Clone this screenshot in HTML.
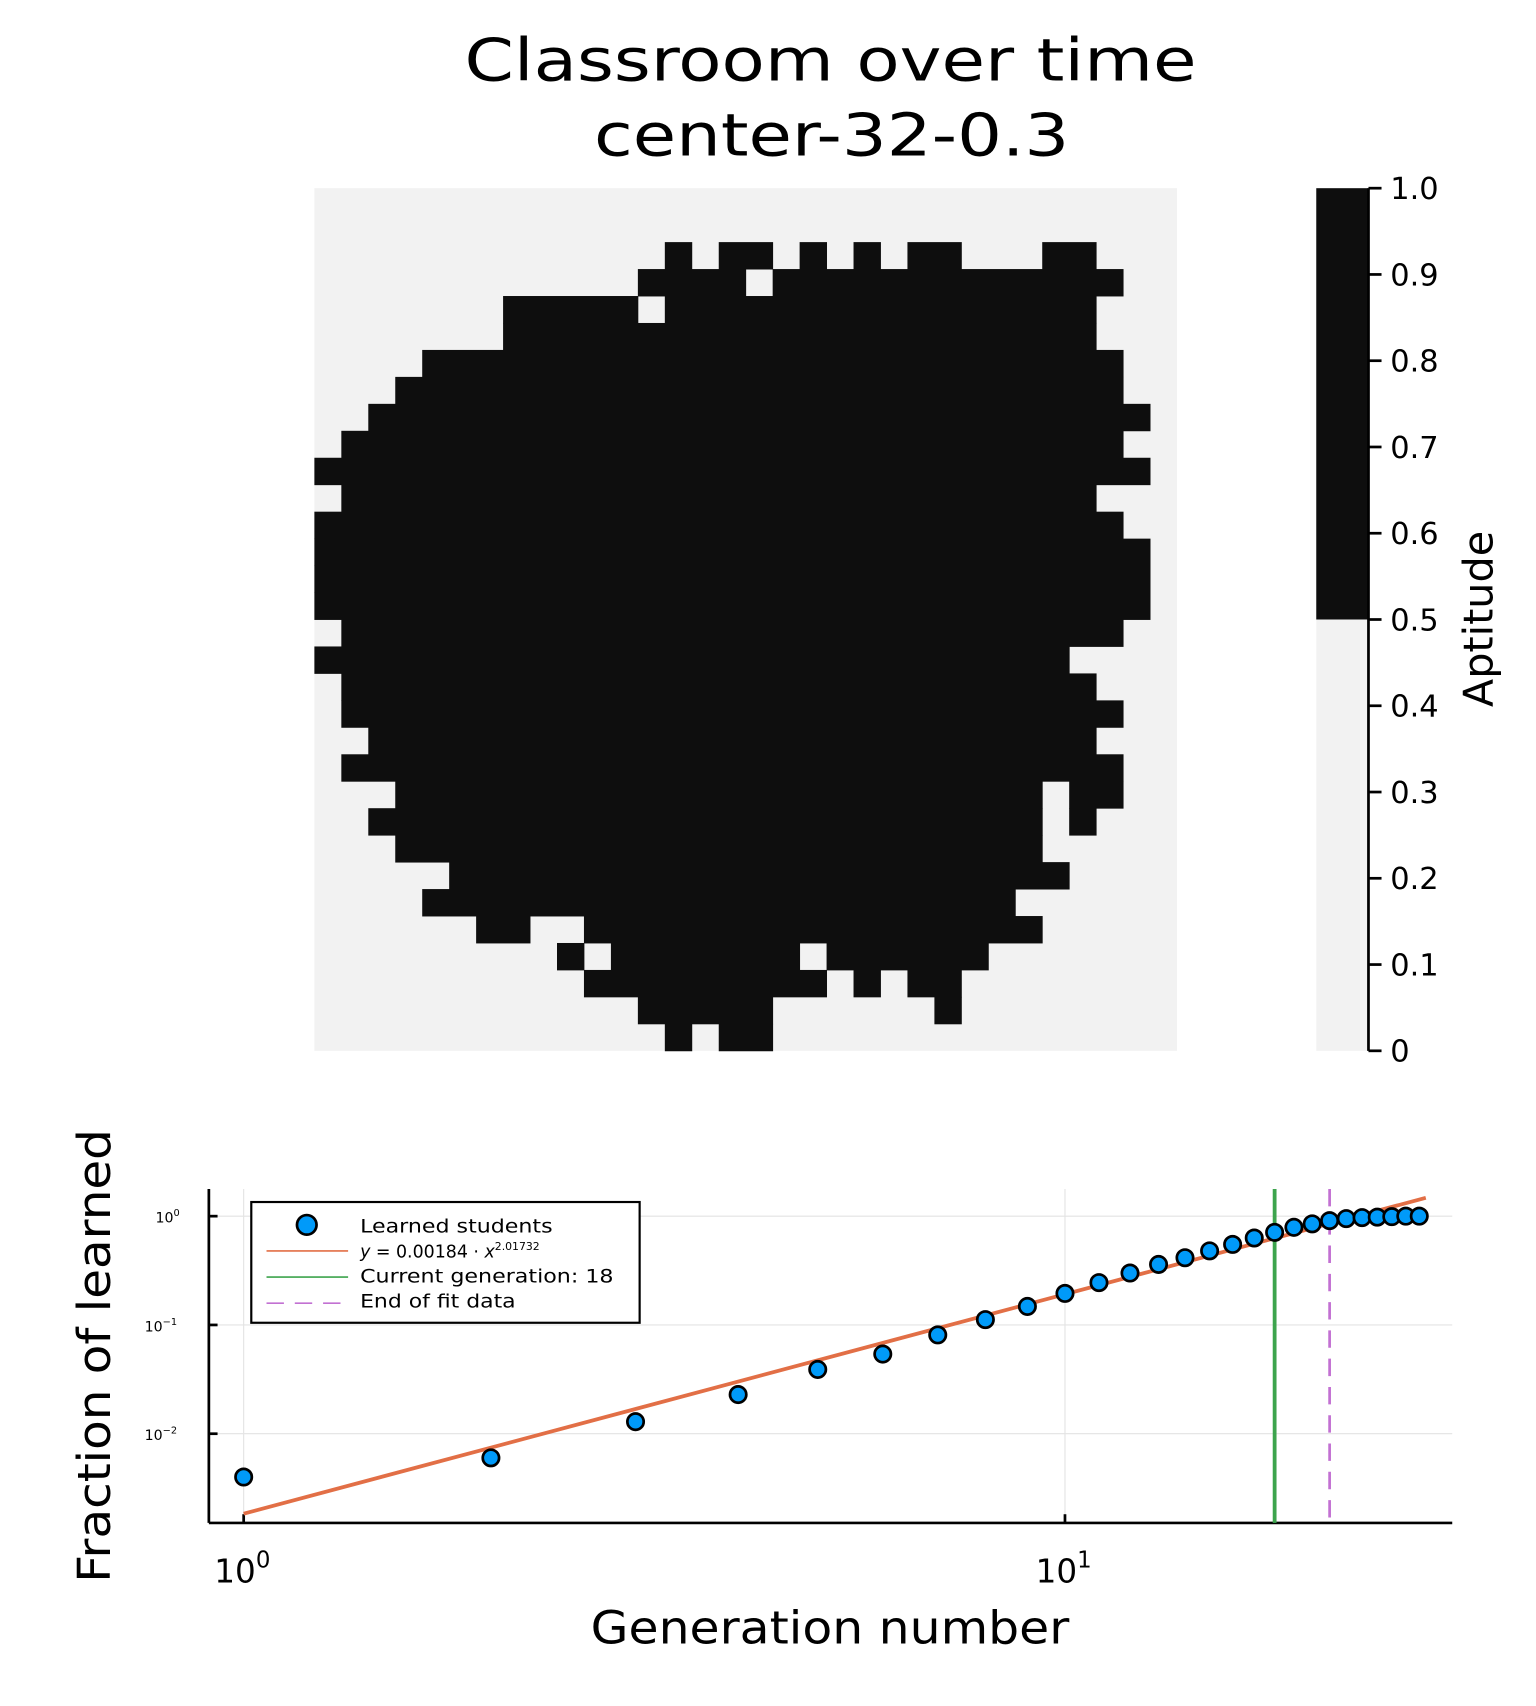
<!DOCTYPE html>
<html><head><meta charset="utf-8"><style>
html,body{margin:0;padding:0;background:#fff}
svg{display:block}
text{font-family:"DejaVu Sans","Liberation Sans",sans-serif;fill:#000}
</style></head><body>
<svg id="fig" width="1536" height="1706" viewBox="0 0 1412 1568.3" preserveAspectRatio="none" xmlns="http://www.w3.org/2000/svg">
<g>
<text x="427" y="74" font-size="54" textLength="673" lengthAdjust="spacingAndGlyphs">Classroom over time</text>
<text x="546" y="143" font-size="54" textLength="437" lengthAdjust="spacingAndGlyphs">center-32-0.3</text>
</g>
<g id="heat"></g>
<g id="cbar"></g>
<g id="chart"></g>
</svg>
<script>
// Heatmap: per row, list of black column ranges [start,end] inclusive
const rowRanges = [
 [],[],
 [[13,13],[15,16],[18,18],[20,20],[22,23],[27,28]],
 [[12,15],[17,29]],
 [[7,11],[13,28]],
 [[7,28]],
 [[4,29]],
 [[3,29]],
 [[2,30]],
 [[1,29]],
 [[0,30]],
 [[1,28]],
 [[0,29]],
 [[0,30]],
 [[0,30]],
 [[0,30]],
 [[1,29]],
 [[0,27]],
 [[1,28]],
 [[1,29]],
 [[2,28]],
 [[1,29]],
 [[3,26],[28,29]],
 [[2,26],[28,28]],
 [[3,26]],
 [[5,27]],
 [[4,25]],
 [[6,7],[10,26]],
 [[9,9],[11,17],[19,24]],
 [[10,18],[20,20],[22,23]],
 [[12,16],[23,23]],
 [[13,13],[15,16]]
];
const cbTicks = ["0","0.1","0.2","0.3","0.4","0.5","0.6","0.7","0.8","0.9","1.0"];
// Chart data
const generations = [1,2,3,4,5,6,7,8,9,10,11,12,13,14,15,16,17,18,19,20,21,22,23,24,25,26,27];
const fractions = [0.0040,0.0060,0.0129,0.0229,0.039,0.054,0.081,0.112,0.148,0.195,0.245,0.30,0.36,0.415,0.48,0.55,0.63,0.71,0.79,0.85,0.91,0.95,0.97,0.98,0.99,1.0,1.0];
const fitA = 0.00184, fitB = 2.01732;
const fitRange = [1,27.5];
const currentGen = 18;
const endFit = 21;
const xTicks = [1,10];
const yTickExp = [0,-1,-2];

const NS="http://www.w3.org/2000/svg";
function mk(tag,attrs,parent){const e=document.createElementNS(NS,tag);for(const k in attrs)e.setAttribute(k,attrs[k]);parent.appendChild(e);return e;}

// heatmap
const heat=document.getElementById('heat');
const HX=289,HY=173,HS=793,N=32,C=HS/N;
const bg=mk('rect',{x:HX,y:HY,width:HS,height:HS,fill:'#f2f2f2'},heat);


rowRanges.forEach((rs,r)=>{rs.forEach(([a,b])=>{
 const el=mk('rect',{x:HX+a*C,y:HY+r*C,width:(b-a+1)*C+0.4,height:C+0.4,fill:'#0e0e0e'},heat);
 
 
});});

// colorbar
const cb=document.getElementById('cbar');
const CX=1210,CW=48,CT=173,CB=966;
const cv=v=>CB-(CB-CT)*v;
let r1=mk('rect',{x:CX,y:cv(1),width:CW,height:cv(0.5)-cv(1),fill:'#0e0e0e'},cb);


let r2=mk('rect',{x:CX,y:cv(0.5),width:CW,height:cv(0)-cv(0.5),fill:'#f2f2f2'},cb);


mk('line',{x1:CX+CW,y1:CT,x2:CX+CW,y2:CB,stroke:'#000','stroke-width':2.5},cb);
cbTicks.forEach(t=>{const y=cv(parseFloat(t));
 mk('line',{x1:CX+CW,y1:y,x2:CX+CW+12,y2:y,stroke:'#000','stroke-width':2.5},cb);
 const tx=mk('text',{x:CX+CW+20,y:y+10,'font-size':28},cb);tx.textContent=t;
 
 
});
const apt=mk('text',{x:0,y:0,'font-size':38,'text-anchor':'middle',transform:'translate(1372,569) rotate(-90)'},cb);
apt.textContent='Aptitude';



// chart
const ch=document.getElementById('chart');
const L=192,R=1335,T=1093,B=1400;
const X0=224,DX=755,Y0=1118,DY=100;
const xs=v=>X0+DX*Math.log10(v);
const ys=v=>Y0-DY*Math.log10(v);
xTicks.forEach(v=>{mk('line',{x1:xs(v),y1:T,x2:xs(v),y2:B,stroke:'#e3e3e3','stroke-width':1},ch);});
yTickExp.forEach(e=>{mk('line',{x1:L,y1:ys(Math.pow(10,e)),x2:R,y2:ys(Math.pow(10,e)),stroke:'#e3e3e3','stroke-width':1},ch);});
mk('line',{x1:L,y1:T,x2:L,y2:B,stroke:'#000','stroke-width':2.5},ch);
mk('line',{x1:L,y1:B,x2:R,y2:B,stroke:'#000','stroke-width':2.5},ch);
xTicks.forEach(v=>{const x=xs(v);
 mk('line',{x1:x,y1:B,x2:x,y2:B-8,stroke:'#000','stroke-width':2.5},ch);
 const t=mk('text',{x:x-27,y:1455,'font-size':30},ch);
 t.innerHTML='10<tspan dy="-14" font-size="21">'+Math.round(Math.log10(v))+'</tspan>';
 
 
});
yTickExp.forEach(e=>{const y=ys(Math.pow(10,e));
 mk('line',{x1:L,y1:y,x2:L+8,y2:y,stroke:'#000','stroke-width':2.5},ch);
 const t=mk('text',{x:e<0?133:143,y:y+6,'font-size':13},ch);
 t.innerHTML='10<tspan dy="-6" font-size="9">'+(e===0?'0':'\u2212'+(-e))+'</tspan>';
 
 
});
const fl=mk('line',{x1:xs(fitRange[0]),y1:ys(fitA*Math.pow(fitRange[0],fitB)),x2:xs(fitRange[1]),y2:ys(fitA*Math.pow(fitRange[1],fitB)),stroke:'#e26f46','stroke-width':3.5},ch);


const gl=mk('line',{x1:xs(currentGen),y1:T,x2:xs(currentGen),y2:B,stroke:'#3da44d','stroke-width':3.5},ch);


const pl=mk('line',{x1:xs(endFit),y1:T,x2:xs(endFit),y2:B,stroke:'#c271d2','stroke-width':2.5,'stroke-dasharray':'16 10'},ch);


generations.forEach((g,i)=>{
 const c=mk('circle',{cx:xs(g),cy:ys(fractions[i]),r:7.5,fill:'#009af9',stroke:'#000','stroke-width':2.5},ch);
 
 
});
const lg=mk('g',{},ch);


mk('rect',{x:231,y:1105,width:357,height:111,fill:'#fff',stroke:'#000','stroke-width':2},lg);
mk('circle',{cx:282,cy:1126,r:9,fill:'#009af9',stroke:'#000','stroke-width':2.5},lg);
mk('line',{x1:245,y1:1150,x2:320,y2:1150,stroke:'#e26f46','stroke-width':1.5},lg);
mk('line',{x1:245,y1:1174,x2:320,y2:1174,stroke:'#3da44d','stroke-width':1.5},lg);
mk('line',{x1:245,y1:1198,x2:320,y2:1198,stroke:'#c271d2','stroke-width':1.5,'stroke-dasharray':'16 10'},lg);
const lt=[['Learned students',1133,177],['Current generation: 18',1179,233],['End of fit data',1202,143]];
lt.forEach(([s,y,w])=>{const t=mk('text',{x:331,y:y,'font-size':17,textLength:w,lengthAdjust:'spacingAndGlyphs'},lg);t.textContent=s;
 
 });
const eq=mk('text',{x:331,y:1156,'font-size':16,'font-family':'Liberation Serif, serif','font-style':'italic'},lg);
eq.innerHTML='y = <tspan font-style="normal">0.00184 · </tspan>x<tspan dy="-7" font-size="10" font-style="normal">2.01732</tspan>';


const xt=mk('text',{x:543,y:1511,'font-size':42,textLength:440,lengthAdjust:'spacingAndGlyphs'},ch);
xt.textContent='Generation number';


const yt=mk('text',{x:0,y:0,'font-size':42,textLength:417,lengthAdjust:'spacingAndGlyphs',transform:'translate(101,1455) rotate(-90)'},ch);
yt.textContent='Fraction of learned';


</script>
</body></html>
